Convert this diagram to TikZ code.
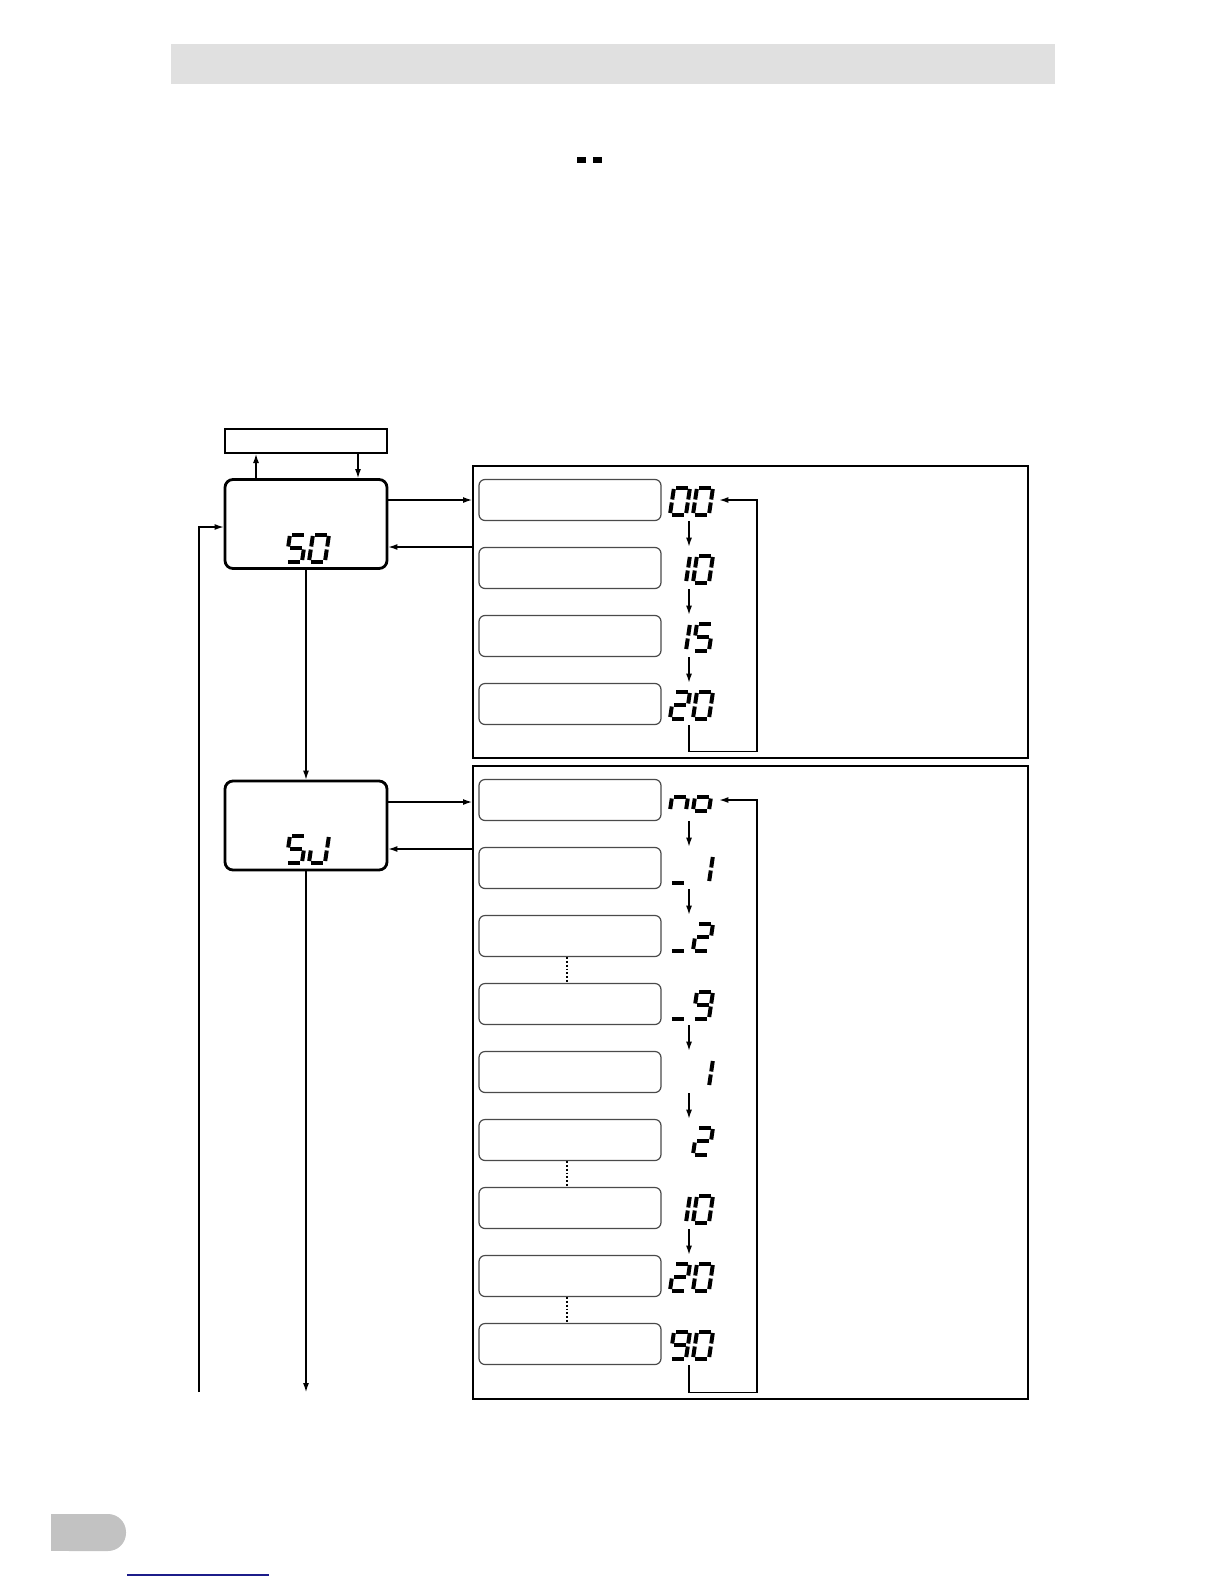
\documentclass[tikz,border=0pt]{standalone}
\usepackage{tikz}
\usetikzlibrary{arrows.meta}
\definecolor{bar}{HTML}{E0E0E0}
\definecolor{tab}{HTML}{C2C2C2}
\definecolor{link}{HTML}{1C1C8A}
\definecolor{edge}{HTML}{4A4A4A}

% one segment of a display digit (local units, y downwards)
\newcommand{\lcdseg}[1]{%
  \if#1a\draw[lcd] (2,-13.5) -- (14,-13.5);\fi
  \if#1b\draw[lcd] (16,-12) -- (16,-1.5);\fi
  \if#1c\draw[lcd] (16,1.5) -- (16,12);\fi
  \if#1d\draw[lcd] (2,13.5) -- (14,13.5);\fi
  \if#1e\draw[lcd] (0,1.5) -- (0,12);\fi
  \if#1f\draw[lcd] (0,-12) -- (0,-1.5);\fi
  \if#1g\draw[lcd] (2,0) -- (14,0);\fi}
\newcommand{\lcddigit}[3]{%
  \begin{scope}[shift={(#1,#2)},xslant=0.15]
    \foreach \s in {#3} {\lcdseg{\s}}
  \end{scope}}

\begin{document}
\begin{tikzpicture}[x=0.5pt,y=-0.5pt,>={Latex[length=4.5pt,width=3pt]},
  lcd/.style={line width=2pt,line cap=butt},
  flow/.style={->,line width=0.6pt},
  modebox/.style={draw,line width=1.4pt,rounded corners=4pt,minimum width=81pt,minimum height=44.5pt,inner sep=0pt},
  groupbox/.style={draw,line width=1pt,minimum width=277.5pt,inner sep=0pt},
  rowbox/.style={draw=edge,line width=0.6pt,rounded corners=3pt,minimum width=91pt,minimum height=20.5pt,inner sep=0pt},
  valbox/.style={minimum width=30pt,minimum height=21pt,inner sep=0pt}]
\useasboundingbox (0,0) rectangle (1224,1584);

% page furniture
\fill[bar] (171,44) rectangle (1055,84);
\draw[lcd,line width=2.6pt] (577,160) -- (586,160) (593,160) -- (602,160);
\fill[tab,rounded corners=9pt] (51,1514) rectangle (126,1551);
\fill[tab] (51,1514) rectangle (80,1551);
\draw[link,line width=0.7pt] (127,1575) -- (269,1575);

% mode boxes
\node[draw,line width=1pt,minimum width=81pt,minimum height=12pt,inner sep=0pt] (menu) at (306,441) {};
\node[modebox] (s0) at (306,524) {};
\node[modebox] (sj) at (306,825.5) {};
\lcddigit{288}{548}{a,f,g,c,d}
\lcddigit{311}{548}{a,b,c,d,e,f}
\lcddigit{288}{849}{a,f,g,c,d}
\lcddigit{311}{849}{b,c,d,e}

\node[groupbox,minimum height=146pt] (grpA) at (750.5,612) {};
\node[groupbox,minimum height=316.5pt] (grpB) at (750.5,1082.5) {};

% connections on the left
\draw[flow] ([xshift=-25pt]s0.north) -- ([xshift=-25pt]s0.north |- menu.south);
\draw[flow] ([xshift=26pt]menu.south) -- ([xshift=26pt]menu.south |- s0.north);
\draw[flow] ([yshift=12pt]s0.east) -- ([yshift=12pt]s0.east -| grpA.west);
\draw[flow] ([yshift=-11.5pt]s0.east -| grpA.west) -- ([yshift=-11.5pt]s0.east);
\draw[flow] ([yshift=11.75pt]sj.east) -- ([yshift=11.75pt]sj.east -| grpB.west);
\draw[flow] ([yshift=-11.75pt]sj.east -| grpB.west) -- ([yshift=-11.75pt]sj.east);
\draw[flow] (s0.south) -- (sj.north);
\coordinate (exitS) at (306,1392);
\coordinate (backL) at (199,1392);
\draw[flow] (sj.south) -- (exitS);
\draw[flow] (backL) |- ([yshift=-1.5pt]s0.west);

% first group
\foreach \y [count=\i] in {500,568,636,704} {
  \node[rowbox] (a\i) at (570,\y) {};
  \node[valbox] (va\i) at (689,\y) {};
}
\lcddigit{672}{501}{a,b,c,d,e,f}\lcddigit{695}{501}{a,b,c,d,e,f}
\lcddigit{672}{569}{b,c}\lcddigit{695}{569}{a,b,c,d,e,f}
\lcddigit{672}{637}{b,c}\lcddigit{695}{637}{a,f,g,c,d}
\lcddigit{672}{705}{a,b,g,e,d}\lcddigit{695}{705}{a,b,c,d,e,f}
\foreach \i/\j in {1/2,2/3,3/4} \draw[flow] (va\i.south) -- (va\j.north);
\draw[flow] (va4.south) -- ++(0,26) -| (757,500) -- (va1.east);

% second group
\foreach \y [count=\i] in {800,868,936,1004,1072,1140,1208,1276,1344} {
  \node[rowbox] (b\i) at (570,\y) {};
  \node[valbox] (vb\i) at (689,\y) {};
}
\lcddigit{672}{797}{c,e,g}\lcddigit{695}{797}{c,d,e,g}
\lcddigit{672}{869}{d}\lcddigit{695}{869}{b,c}
\lcddigit{672}{937}{d}\lcddigit{695}{937}{a,b,g,e,d}
\lcddigit{672}{1005}{d}\lcddigit{695}{1005}{a,b,c,d,f,g}
\lcddigit{695}{1073}{b,c}
\lcddigit{695}{1141}{a,b,g,e,d}
\lcddigit{672}{1209}{b,c}\lcddigit{695}{1209}{a,b,c,d,e,f}
\lcddigit{672}{1277}{a,b,g,e,d}\lcddigit{695}{1277}{a,b,c,d,e,f}
\lcddigit{672}{1345}{a,b,c,d,f,g}\lcddigit{695}{1345}{a,b,c,d,e,f}
\foreach \i/\j in {1/2,2/3,4/5,5/6,7/8} \draw[flow] (vb\i.south) -- (vb\j.north);
\foreach \i/\j in {3/4,6/7,8/9} \draw[densely dotted,line width=0.9pt] ([xshift=-1.5pt]b\i.south) -- ([xshift=-1.5pt]b\j.north);
\draw[flow] (vb9.south) -- ++(0,27) -| (757,800) -- (vb1.east);
\end{tikzpicture}
\end{document}
